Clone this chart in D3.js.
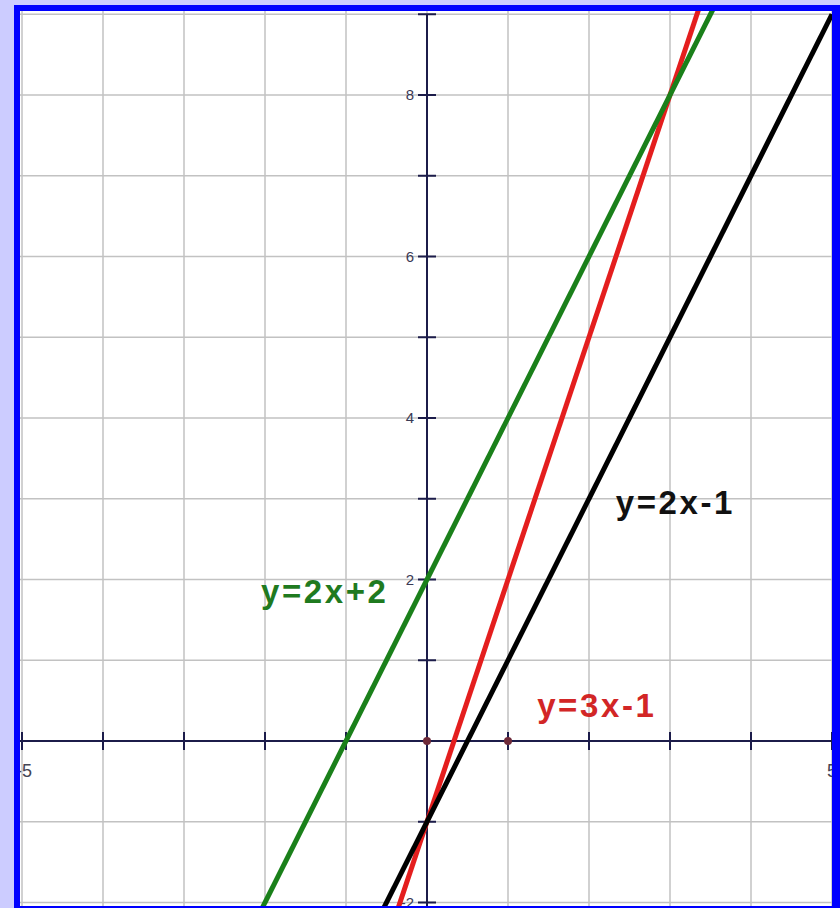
<!DOCTYPE html>
<html>
<head>
<meta charset="utf-8">
<script src="https://cdn.jsdelivr.net/npm/d3@7"></script>
<style>
  body { margin: 0; background: #ccccff; }
  svg { display: block; }
</style>
</head>
<body>
<div id="chart"></div>
<script>
// Lines: y = slope * x + intercept
const lineNames = ["y=2x+2", "y=3x-1", "y=2x-1"];
const lineSlopes = [2, 3, 2];
const lineIntercepts = [2, -1, -1];
const lineColors = ["#1a801a", "#e41e1e", "#000000"];
const labelColors = ["#1f7a1f", "#d22626", "#111111"];
// where each label starts (data coords)
const labelX = [-2.05, 1.36, 2.33];
const labelY = [1.71, 0.3, 2.81];

const xTicks = d3.range(-5, 6);
const yTicks = d3.range(-2, 10);
const yTickLabels = [-2, 2, 4, 6, 8];
const xTickLabels = [-5, 5];
const markedPoints = [[0, 0], [1, 0]];

const config = {
  width: 840,
  height: 908,
  plot: { left: 20, top: 11, right: 832, bottom: 906 },
};

const svg = d3
  .select("#chart")
  .append("svg")
  .attr("width", config.width)
  .attr("height", config.height);

// blue frame and white plot area
svg.append("rect")
  .attr("x", 14).attr("y", 5)
  .attr("width", 840).attr("height", 910)
  .attr("fill", "#0000ff");
svg.append("rect")
  .attr("x", config.plot.left).attr("y", config.plot.top)
  .attr("width", config.plot.right - config.plot.left)
  .attr("height", config.plot.bottom - config.plot.top)
  .attr("fill", "#ffffff");

svg.append("clipPath").attr("id", "clip")
  .append("rect")
  .attr("x", config.plot.left).attr("y", config.plot.top)
  .attr("width", config.plot.right - config.plot.left)
  .attr("height", config.plot.bottom - config.plot.top);

const x = d3.scaleLinear().domain([-5, 5]).range([22, 832]);
const y = d3.scaleLinear().domain([0, 8]).range([741, 95]);

const g = svg.append("g").attr("clip-path", "url(#clip)");

// grid
g.append("g").selectAll("line")
  .data(xTicks)
  .join("line")
  .attr("x1", d => x(d)).attr("x2", d => x(d))
  .attr("y1", y(-2.2)).attr("y2", y(9.2))
  .attr("stroke", "#c2c2c2")
  .attr("stroke-width", 1.5);
g.append("g").selectAll("line")
  .data(yTicks)
  .join("line")
  .attr("x1", x(-5.1)).attr("x2", x(5.1))
  .attr("y1", d => y(d)).attr("y2", d => y(d))
  .attr("stroke", "#c2c2c2")
  .attr("stroke-width", 1.5);

// axes
const axisColor = "#1c1c4a";
g.append("line")
  .attr("x1", x(-5.1)).attr("x2", x(5.1))
  .attr("y1", y(0)).attr("y2", y(0))
  .attr("stroke", axisColor).attr("stroke-width", 2);
g.append("line")
  .attr("x1", x(0)).attr("x2", x(0))
  .attr("y1", y(-2.2)).attr("y2", y(9))
  .attr("stroke", axisColor).attr("stroke-width", 2);

// tick marks
g.append("g").selectAll("line")
  .data(xTicks.filter(d => d !== 0))
  .join("line")
  .attr("x1", d => x(d)).attr("x2", d => x(d))
  .attr("y1", y(0) - 9).attr("y2", y(0) + 9)
  .attr("stroke", axisColor).attr("stroke-width", 2);
g.append("g").selectAll("line")
  .data(yTicks.filter(d => d !== 0))
  .join("line")
  .attr("x1", x(0) - 9).attr("x2", x(0) + 9)
  .attr("y1", d => y(d)).attr("y2", d => y(d))
  .attr("stroke", axisColor).attr("stroke-width", 2);

// tick labels
g.append("g").selectAll("text")
  .data(yTickLabels)
  .join("text")
  .attr("x", x(0) - 13)
  .attr("y", d => y(d))
  .attr("dy", "0.36em")
  .attr("text-anchor", "end")
  .style("font", "15px 'Liberation Sans', Arial, sans-serif")
  .style("fill", "#3a3a55")
  .text(d => d);
g.append("g").selectAll("text")
  .data(xTickLabels)
  .join("text")
  .attr("x", d => (d < 0 ? x(d) + 2 : x(d)))
  .attr("y", y(0) + 36)
  .attr("text-anchor", "middle")
  .style("font", "18px 'Liberation Sans', Arial, sans-serif")
  .style("fill", "#444455")
  .text(d => d);

// the function lines, red first so green and black sit on top
const drawOrder = [1, 0, 2];
g.append("g").selectAll("line")
  .data(drawOrder)
  .join("line")
  .attr("x1", x(-5)).attr("x2", x(5))
  .attr("y1", i => y(lineSlopes[i] * -5 + lineIntercepts[i]))
  .attr("y2", i => y(lineSlopes[i] * 5 + lineIntercepts[i]))
  .attr("stroke", i => lineColors[i])
  .attr("stroke-width", 5);

// marked points on the x axis
g.append("g").selectAll("circle")
  .data(markedPoints)
  .join("circle")
  .attr("cx", d => x(d[0])).attr("cy", d => y(d[1]))
  .attr("r", 4)
  .attr("fill", "#6e2a3a");

// equation labels
g.append("g").selectAll("text")
  .data(lineNames)
  .join("text")
  .attr("x", (d, i) => x(labelX[i]))
  .attr("y", (d, i) => y(labelY[i]))
  .style("font", "bold 33px 'Liberation Sans', Arial, sans-serif")
  .style("letter-spacing", "2.6px")
  .style("fill", (d, i) => labelColors[i])
  .text(d => d);
</script>
</body>
</html>
